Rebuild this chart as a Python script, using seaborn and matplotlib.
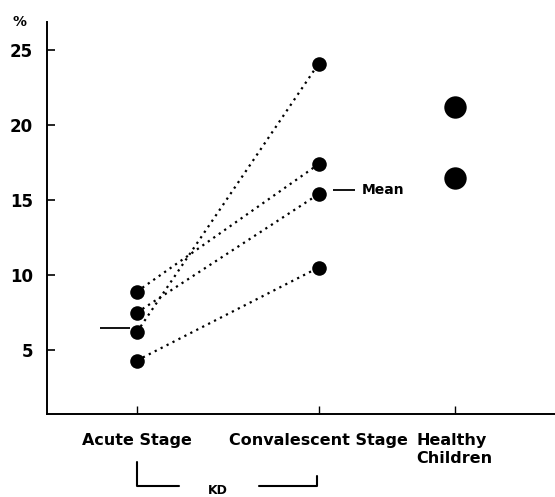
import matplotlib
matplotlib.use("Agg")
import matplotlib.pyplot as plt
import seaborn as sns
import pandas as pd

# groups on the x axis (positions follow the uneven spacing of the original)
groups = ["Acute Stage", "Convalescent Stage", "Healthy\nChildren"]
group_pos = [1.0, 2.0, 2.75]

# paired KD patients: acute -> convalescent (%)
acute = [8.9, 7.5, 6.2, 4.3]
convalescent = [17.4, 15.4, 24.1, 10.5]
healthy = [21.2, 16.5]

# group means
mean_acute = 6.5
mean_conv = 15.7

yticks = [5, 10, 15, 20, 25]

sns.set_style("ticks")
plt.rcParams["font.family"] = ["DejaVu Sans"]
plt.rcParams["font.weight"] = "bold"
plt.rcParams["text.color"] = "black"
plt.rcParams["xtick.color"] = "black"
plt.rcParams["ytick.color"] = "black"

fig = plt.figure(figsize=(5.55, 4.97), dpi=100)
ax = fig.add_axes([0.0847, 0.167, 0.9153, 0.789])

# build long table for the paired points
rows = []
for i, (a, c) in enumerate(zip(acute, convalescent)):
    rows.append({"pid": i, "x": group_pos[0], "value": a})
    rows.append({"pid": i, "x": group_pos[1], "value": c})
df = pd.DataFrame(rows)

for pid, sub in df.groupby("pid"):
    ax.plot(sub["x"], sub["value"], color="black", linestyle=(0, (1, 2)),
            linewidth=1.6, zorder=1)

sns.scatterplot(data=df, x="x", y="value", color="black", s=110,
                edgecolor="black", linewidth=0, ax=ax, zorder=3, legend=False)

df_h = pd.DataFrame({"x": [group_pos[2]] * len(healthy), "value": healthy})
sns.scatterplot(data=df_h, x="x", y="value", color="black", s=260,
                edgecolor="black", linewidth=0, ax=ax, zorder=3, legend=False)

# mean markers
ax.hlines(mean_acute, group_pos[0] - 0.205, group_pos[0] - 0.04,
          color="black", linewidth=1.3)
ax.hlines(mean_conv, group_pos[1] + 0.08, group_pos[1] + 0.2,
          color="black", linewidth=1.3)
ax.text(group_pos[1] + 0.24, mean_conv, "Mean", fontsize=10,
        va="center", ha="left")

ax.set_xlim(0.505, 3.302)
ax.set_ylim(0.73, 26.9)
ax.set_xticks(group_pos)
ax.set_xticklabels(groups, fontsize=11.5, fontweight="bold", multialignment="left")
ax.set_yticks(yticks)
ax.set_yticklabels([str(t) for t in yticks], fontsize=12, fontweight="bold")
ax.tick_params(axis="y", direction="in", length=6, width=1.2, pad=10)
ax.tick_params(axis="x", direction="in", length=6, width=1.0, pad=14)
ax.set_xlabel("")
ax.set_ylabel("")
sns.despine(ax=ax, top=True, right=True)
for s in ["left", "bottom"]:
    ax.spines[s].set_linewidth(1.4)
    ax.spines[s].set_color("black")

# % unit label above the y axis
ax.text(-0.055, 1.0, "%", transform=ax.transAxes, fontsize=10,
        fontweight="bold", ha="center", va="center")

# KD bracket under the first two groups
ax.plot([group_pos[0], group_pos[0], group_pos[0] + 0.23],
        [-2.5, -4.1, -4.1], color="black", linewidth=1.5, clip_on=False)
ax.plot([group_pos[1] - 0.33, group_pos[1] - 0.01, group_pos[1] - 0.01],
        [-4.1, -4.1, -3.4], color="black", linewidth=1.5, clip_on=False)
ax.text(1.445, -4.35, "KD", fontsize=9, fontweight="bold", ha="center",
        va="center", clip_on=False)

fig.savefig("out.png", dpi=100)
plt.close(fig)
